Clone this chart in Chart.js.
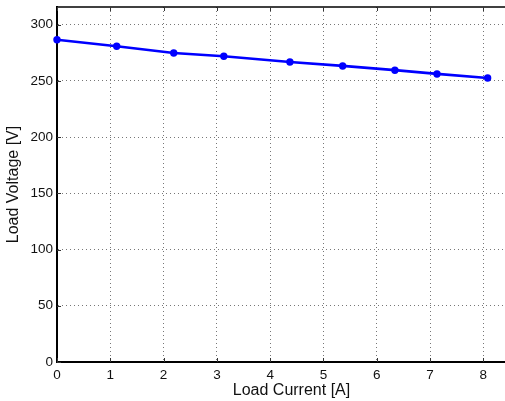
<!DOCTYPE html>
<html>
<head>
<meta charset="utf-8">
<script src="https://cdn.jsdelivr.net/npm/chart.js@4"></script>
<style>
  html, body { margin: 0; padding: 0; background: #fff; overflow: hidden; }
  #wrap { width: 505px; height: 401px; overflow: hidden; }
</style>
</head>
<body>
<div id="wrap"><canvas id="myChart" width="530" height="401"></canvas></div>
<script>
const loadCurrent = [0, 1.12, 2.19, 3.13, 4.37, 5.36, 6.34, 7.13, 8.08];
const loadVoltage = [286.5, 280.7, 274.7, 271.8, 266.7, 263.2, 259.4, 256.1, 252.5];
const xTicks = [0, 1, 2, 3, 4, 5, 6, 7, 8];
const yTicks = [0, 50, 100, 150, 200, 250, 300];

const TICK_FONT = { family: 'Liberation Sans, Arial, sans-serif', size: 13.5 };
const TITLE_FONT = { family: 'Liberation Sans, Arial, sans-serif', size: 16 };

// matlab-like inner tick marks + top frame line
const frameTicks = {
    id: 'frameTicks',
    afterDraw(chart) {
        const { ctx, chartArea: a, scales: { x, y } } = chart;
        ctx.save();
        ctx.strokeStyle = '#000';
        ctx.lineWidth = 1.5;
        ctx.beginPath();
        ctx.moveTo(a.left, a.top);
        ctx.lineTo(a.right, a.top);
        ctx.stroke();
        ctx.lineWidth = 1;
        ctx.strokeStyle = '#333';
        ctx.beginPath();
        xTicks.forEach(v => {
            const px = Math.round(x.getPixelForValue(v)) + 0.5;
            ctx.moveTo(px, a.bottom); ctx.lineTo(px, a.bottom - 4);
            ctx.moveTo(px, a.top); ctx.lineTo(px, a.top + 4);
        });
        yTicks.forEach(v => {
            const py = Math.round(y.getPixelForValue(v)) + 0.5;
            ctx.moveTo(a.left, py); ctx.lineTo(a.left + 4, py);
        });
        ctx.stroke();
        ctx.restore();
    }
};

new Chart(document.getElementById('myChart'), {
    type: 'line',
    data: {
        datasets: [{
            data: loadCurrent.map((v, i) => ({ x: v, y: loadVoltage[i] })),
            borderColor: '#0000ff',
            backgroundColor: '#0000ff',
            borderWidth: 2.7,
            pointRadius: 3.7,
            pointBorderWidth: 0,
            tension: 0,
            clip: false
        }]
    },
    options: {
        responsive: false,
        animation: false,
        layout: { padding: { top: 7, right: 0, left: 0, bottom: 0 } },
        plugins: { legend: { display: false }, tooltip: { enabled: false } },
        scales: {
            x: {
                type: 'linear',
                min: 0,
                max: 8.8,
                afterFit: (s) => { s.height = 39; s.paddingLeft = 0; s.paddingRight = 0; },
                afterBuildTicks: (s) => { s.ticks = xTicks.map(v => ({ value: v })); },
                ticks: { font: TICK_FONT, color: '#111', padding: 5, maxRotation: 0 },
                grid: { color: '#777', lineWidth: 1, drawTicks: false },
                border: { color: '#000', width: 2, dash: [1, 3] },
                title: { display: true, text: 'Load Current [A]', font: TITLE_FONT, color: '#111', padding: { top: 0, bottom: 1 } }
            },
            y: {
                min: 0,
                max: 315.6,
                afterFit: (s) => { s.width = 57; s.paddingTop = 0; s.paddingBottom = 0; },
                afterBuildTicks: (s) => { s.ticks = yTicks.map(v => ({ value: v })); },
                ticks: { font: TICK_FONT, color: '#111', padding: 4 },
                grid: { color: '#777', lineWidth: 1, drawTicks: false },
                border: { color: '#000', width: 2, dash: [1, 3] },
                title: { display: true, text: 'Load Voltage [V]', font: TITLE_FONT, color: '#111', padding: { top: 4, bottom: 0 } }
            }
        }
    },
    plugins: [frameTicks]
});
</script>
</body>
</html>
